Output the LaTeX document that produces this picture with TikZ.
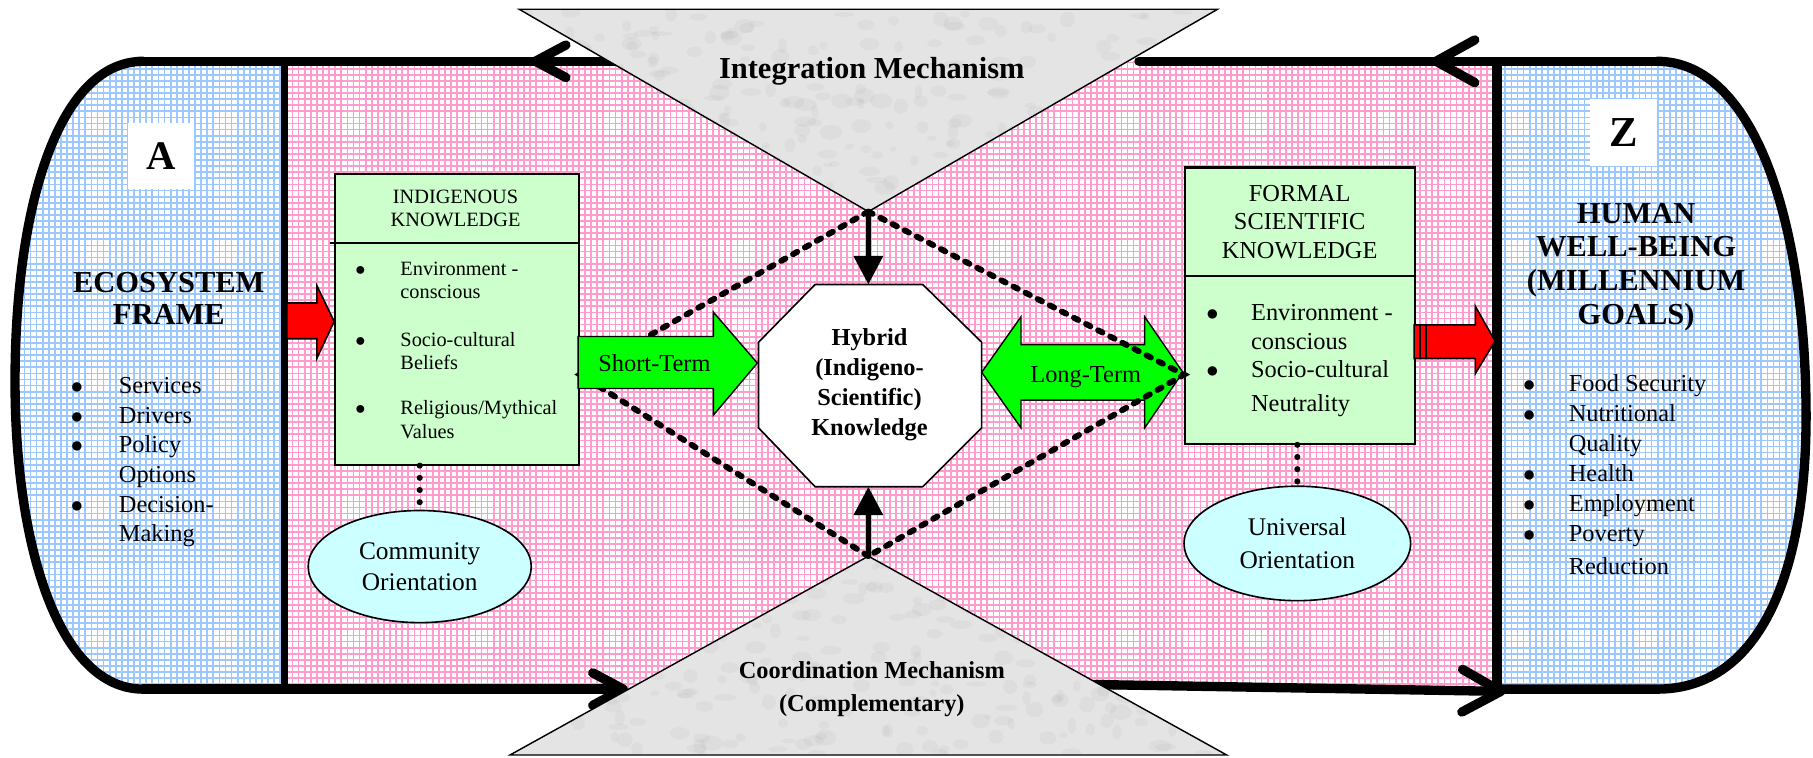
\documentclass[tikz,border=0pt]{standalone}
\usepackage{fontspec}
\setmainfont{Liberation Serif}
\usepackage{tikz}
\usetikzlibrary{arrows.meta,decorations.markings}
\usetikzlibrary{calc}
\usetikzlibrary{positioning}
\usetikzlibrary{patterns}
\usetikzlibrary{shapes.geometric}

\definecolor{gridpink}{RGB}{255,155,205}
\definecolor{gridblue}{RGB}{155,200,255}
\definecolor{boxgreen}{RGB}{204,255,204}
\definecolor{ovalcyan}{RGB}{204,255,255}
\definecolor{arrowgreen}{RGB}{0,255,0}
\definecolor{marble}{RGB}{228,228,228}

% grid with heavier lines than the stock one
\pgfdeclarepatternformonly{thickgrid}{\pgfqpoint{-1pt}{-1pt}}{\pgfqpoint{4pt}{4pt}}{\pgfqpoint{3pt}{3pt}}{%
  \pgfsetlinewidth{0.85pt}%
  \pgfpathmoveto{\pgfqpoint{0pt}{0pt}}%
  \pgfpathlineto{\pgfqpoint{3.1pt}{0pt}}%
  \pgfpathmoveto{\pgfqpoint{0pt}{0pt}}%
  \pgfpathlineto{\pgfqpoint{0pt}{3.1pt}}%
  \pgfusepath{stroke}}

\newcommand{\setfs}[2]{\fontsize{#1}{#2}\selectfont}
\newcommand{\bul}{$\bullet$}

\begin{document}
\begin{tikzpicture}[
  x=0.02cm, y=-0.02cm,
  chev/.tip = {Straight Barb[round,length=15pt,width=16pt]},
  bigchev/.tip = {Straight Barb[round,length=19pt,width=21pt]},
  rim/.style = {line width=4.6pt, line cap=round, line join=round},
  barb inside/.style 2 args = {postaction=decorate,decoration={markings,mark=at position #1 with {\arrow{#2}}}},
  blotch/.style = {fill=black!70, opacity=0.045},
  letterbox/.style = {fill=white, minimum size=1.14cm, inner sep=0pt},
  paneltitle/.style = {align=center, inner sep=0pt},
  kbox/.style = {draw, line width=1pt, fill=boxgreen, inner sep=0pt},
  orient/.style = {ellipse, draw, line width=0.8pt, fill=ovalcyan, align=center, inner sep=0pt},
  blockarrow/.style = {draw, line width=0.7pt, line join=miter, fill=arrowgreen},
  redarrow/.style = {draw, line width=0.8pt, line join=miter, fill=red},
  itemlist/.style = {anchor=north west, inner sep=0pt},
  dotline/.style = {line width=3pt, dash pattern=on 0pt off 6pt, line cap=round},
  dashline/.style = {line width=2.9pt, dash pattern=on 2.4pt off 4.3pt, line cap=round},
  feed/.style = {line width=2.6pt, -{Triangle[length=14pt,width=14pt]}}
  ]
  \useasboundingbox (0,0) rectangle (1568,655);

  \coordinate (@a1) at (124,53);
  \coordinate (@a2) at (124,596);
  \coordinate (@z1) at (1433,53);
  \coordinate (@z2) at (1433,596);

  % panels
  \fill[pattern=thickgrid, pattern color=gridpink] (246,53) rectangle (1295,596);
  \fill[pattern=thickgrid, pattern color=gridblue] (246,53) -- (@a1)
    .. controls (50,53) and (13,180) .. (13,330)
    .. controls (13,470) and (50,596) .. (@a2) -- (246,596) -- cycle;
  \fill[pattern=thickgrid, pattern color=gridblue] (1295,53) -- (@z1)
    .. controls (1520,53) and (1562,200) .. (1562,360)
    .. controls (1562,490) and (1525,596) .. (@z2) -- (1295,596) -- cycle;

  % outer loop
  \draw[rim] (@a1) .. controls (50,53) and (13,180) .. (13,330)
    .. controls (13,470) and (50,596) .. (@a2);
  \draw[rim] (1295,596) -- (@z2) .. controls (1525,596) and (1562,490) .. (1562,360)
    .. controls (1562,200) and (1520,53) .. (@z1);
  \draw[rim, barb inside={3.9cm}{bigchev}] (@z1) -- (985,53);
  \draw[rim, barb inside={2.82cm}{chev}] (600,53) -- (@a1);
  \draw[rim, -chev] (@a2) -- (543,596);
  \draw[rim, -bigchev] (946,592) -- (1302,598);
  \draw[line width=3.8pt] (246,53) -- (246,596);
  \draw[line width=5pt] (1295,53) -- (1295,596);

  % mechanisms
  \fill[marble] (449,8) -- (1053,8) -- (751,183) -- cycle;
  \fill[marble] (751,481) -- (1061,653) -- (441,653) -- cycle;
  \begin{scope}
    \clip (449,8) -- (1053,8) -- (751,183) -- cycle
          (751,481) -- (1061,653) -- (441,653) -- cycle;
    \pgfmathsetseed{11}
    \foreach \i in {1,...,1100}
      \fill[blotch] (441+620*rnd, 8+645*rnd) circle[x radius=3+7*rnd, y radius=2+5*rnd];
  \end{scope}
  \draw[line width=0.7pt] (449,8) -- (1053,8) -- (751,183) -- cycle;
  \draw[line width=0.7pt] (751,481) -- (1061,653) -- (441,653) -- cycle;
  \coordinate (@top) at (751,183);
  \coordinate (@bot) at (751,481);
  \node[font=\bfseries\setfs{15}{17}] (im) at (754,62) {Integration Mechanism};
  \node[font=\bfseries\setfs{12}{16}, align=center] (cm) at (754,596) {Coordination Mechanism\\(Complementary)};

  % ecosystem side
  \node[letterbox, font=\bfseries\setfs{20}{20}] (a) at (139,135) {A};
  \node[paneltitle, font=\bfseries\setfs{15}{15.4}] (eco) at (146,258) {ECOSYSTEM\\FRAME};
  \node[itemlist, font=\setfs{12}{14.6}] (ecolist) at (61,322) {%
    \begin{tabular}{@{}p{0.83cm}@{}l@{}}
    \bul & Services\\
    \bul & Drivers\\
    \bul & Policy\\
         & Options\\
    \bul & Decision-\\
         & Making
    \end{tabular}};
  \draw[redarrow] (248,262) -- (274,262) -- (274,247) -- (289,278) -- (274,310) -- (274,293) -- (248,293) -- cycle;

  % indigenous knowledge
  \node[kbox, anchor=north west, minimum width=4.22cm, minimum height=5.02cm] (ik) at (289,150) {};
  \draw[line width=1pt] ([xshift=-0.08cm,yshift=-1.2cm]ik.north west) -- ([yshift=-1.2cm]ik.north east);
  \node[font=\setfs{10}{11.4}, align=center] (ikhead) at (394,180) {INDIGENOUS\\KNOWLEDGE};
  \node[itemlist, font=\setfs{10}{11.4}] (iklist) at (307,224) {%
    \begin{tabular}{@{}p{0.78cm}@{}l@{}}
    \bul & Environment -\\
         & conscious\\[12pt]
    \bul & Socio-cultural\\
         & Beliefs\\[11pt]
    \bul & Religious/Mythical\\
         & Values
    \end{tabular}};
  \node[orient, minimum width=3.86cm, minimum height=1.94cm, font=\setfs{12.5}{15.4}] (co) at (363,490) {Community\\Orientation};
  \draw[dotline] (co.north |- ik.south) -- (co.north);

  % formal scientific knowledge
  \node[kbox, anchor=north west, minimum width=3.98cm, minimum height=4.78cm] (fsk) at (1024,144) {};
  \draw[line width=1pt] ([yshift=-1.9cm]fsk.north west) -- ([yshift=-1.9cm]fsk.north east);
  \node[font=\setfs{12}{14.2}, align=center] (fskhead) at (1124,192) {FORMAL\\SCIENTIFIC\\KNOWLEDGE};
  \node[itemlist, font=\setfs{12}{13.9}] (fsklist) at (1043,260) {%
    \begin{tabular}{@{}p{0.774cm}@{}l@{}}
    \bul & Environment -\\
         & conscious\\
    \bul & Socio-cultural\\[3pt]
         & Neutrality
    \end{tabular}};
  \node[orient, minimum width=3.92cm, minimum height=1.98cm, font=\setfs{12.5}{15.9}] (uo) at (1122,470) {Universal\\Orientation};
  \draw[dotline] (uo.north |- fsk.south) -- (uo.north);
  \draw[redarrow] (1223,281) -- (1276,281) -- (1276,265) -- (1293,295) -- (1276,323) -- (1276,310) -- (1223,310) -- cycle;
  \draw[line width=0.9pt] (1228,281) -- (1228,310) (1233,281) -- (1233,310);

  % hybrid core
  \coordinate (@l) at (ik.east |- 0,324);
  \coordinate (@r) at (fsk.west |- 0,324);
  \draw[dashline] (@top) -- (@l) -- (@bot);
  \draw[blockarrow] (500,291) -- (617,291) -- (617,270) -- (655,314) -- (617,359) -- (617,336) -- (500,336) -- cycle;
  \node[font=\setfs{12}{14}] (st) at (566,314) {Short-Term};
  \draw[line width=0.8pt, fill=white] (705,246) -- (798,246) -- (849,296) -- (849,370)
    -- (798,421) -- (705,421) -- (656,370) -- (656,296) -- cycle;
  \node[font=\bfseries\setfs{12}{14.8}, align=center] (hyb) at (752,333) {Hybrid\\(Indigeno-\\Scientific)\\Knowledge};
  \coordinate (@hn) at (751,246);
  \coordinate (@hs) at (751,421);
  \draw[blockarrow] (849,322) -- (883,274) -- (883,298) -- (990,298) -- (990,274) -- (1023,322)
    -- (990,370) -- (990,346) -- (883,346) -- (883,370) -- cycle;
  \node[font=\setfs{12}{14}] (lt) at (939,326) {Long-Term};
  \draw[dashline] (@top) -- (@r) -- (@bot);
  \draw[feed] (@top) -- (@hn);
  \draw[feed] (@bot) -- (@hs);

  % well-being side
  \node[letterbox, minimum size=1.16cm, font=\bfseries\setfs{21}{21}] (z) at (1404,115) {Z};
  \node[paneltitle, font=\bfseries\setfs{15}{16.7}] (hwb) at (1415,231) {HUMAN\\WELL-BEING\\(MILLENNIUM\\GOALS)};
  \node[itemlist, font=\setfs{12}{14.8}] (hwblist) at (1317,320) {%
    \begin{tabular}{@{}p{0.79cm}@{}l@{}}
    \bul & Food Security\\
    \bul & Nutritional\\
         & Quality\\
    \bul & Health\\
    \bul & Employment\\
    \bul & Poverty\\[1.5pt]
         & Reduction
    \end{tabular}};

\end{tikzpicture}
\end{document}
